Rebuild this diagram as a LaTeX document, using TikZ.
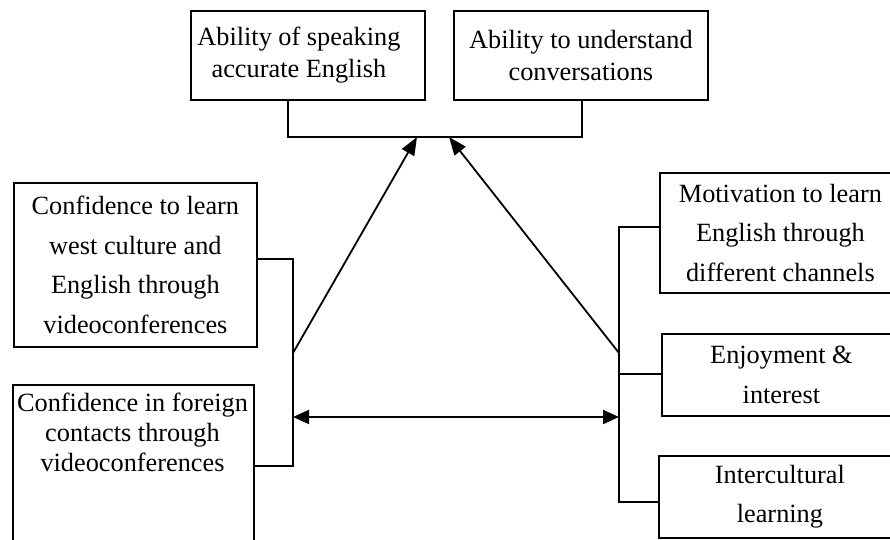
\documentclass[tikz,border=0pt]{standalone}
\usepackage{fontspec}
\setmainfont{Liberation Serif}
\usetikzlibrary{arrows.meta}
\begin{document}
\begin{tikzpicture}[x=1pt,y=-1pt,line width=1.8pt,
  box/.style={draw,line width=1.8pt,inner sep=0pt,align=center,anchor=north west},
  lbl/.style={inner sep=0pt,align=center},
  arr/.style={-{Triangle[length=18pt,width=14pt]}},
  dblarr/.style={{Triangle[length=16pt,width=14pt]}-{Triangle[length=16pt,width=14pt]}},
  fa/.style={font=\fontsize{26.3}{32}\selectfont},
  fb/.style={font=\fontsize{26.3}{39.5}\selectfont},
  fc/.style={font=\fontsize{26.3}{30}\selectfont}]
\useasboundingbox (0,0) rectangle (890,539);
\clip (0,0) rectangle (890,539);
% top boxes
\node[box,fa,minimum width=234pt,minimum height=89pt] (a1) at (190,10) {Ability of speaking\kern18pt\\accurate English\kern18pt};
\node[box,fa,minimum width=254pt,minimum height=89pt] (a2) at (453,10) {Ability to understand\\conversations};
% left boxes
\node[box,fb,minimum width=243pt,minimum height=164pt] (l1) at (13,182) {Confidence to learn\\west culture and\\English through\\videoconferences};
\node[box,minimum width=241pt,minimum height=190pt] (l2) at (12,384) {};
\node[lbl,fc,anchor=north] (l2t) at (132.5,392) {Confidence in foreign\\contacts through\\videoconferences};
% right boxes
\node[box,fb,minimum width=241pt,minimum height=120pt] (r1) at (659,172) {Motivation to learn\\English through\\different channels};
\node[box,fb,minimum width=239pt,minimum height=82pt] (r2) at (661,333) {Enjoyment \&\\interest};
\node[box,fb,minimum width=242pt,minimum height=82pt] (r3) at (658,455) {Intercultural\\learning};
% coordinates
\coordinate (tbL) at (288,137);
\coordinate (tbR) at (582,137);
\coordinate (tA) at (417,137);
\coordinate (tB) at (449,137);
\coordinate (lT) at (293,259);
\coordinate (lB) at (293,466);
\coordinate (lM) at (293,353);
\coordinate (lH) at (293,417);
\coordinate (rT) at (619,227);
\coordinate (rB) at (619,502);
\coordinate (rM) at (619,353);
\coordinate (rH) at (619,417);
\coordinate (rS) at (619,374);
% connectors
\draw (a1.south -| tbL) -- (tbL) -- (tbR) -- (a2.south -| tbR);
\draw (l1.east |- lT) -- (lT) -- (lB) -- (l2.east |- lB);
\draw (r1.west |- rT) -- (rT) -- (rB) -- (r3.west |- rB);
\draw (rS) -- (r2.west |- rS);
\draw[arr] (lM) -- (tA);
\draw[arr] (rM) -- (tB);
\draw[dblarr] (lH) -- (rH);
\end{tikzpicture}
\end{document}
